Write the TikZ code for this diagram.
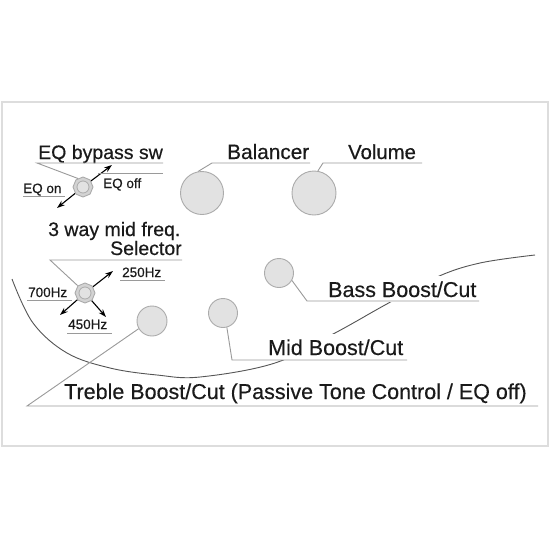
\documentclass[tikz,border=0pt]{standalone}
\usepackage{fontspec}
\setmainfont{Liberation Sans}
\newfontfamily\lblfont{Liberation Sans}[FakeBold=0.4]
\usetikzlibrary{shapes.geometric,arrows.meta}
\definecolor{linegray}{HTML}{9A9A9A}
\definecolor{knobfill}{HTML}{E2E2E2}
\definecolor{knobedge}{HTML}{ABABAB}
\definecolor{framegray}{HTML}{DDDDDD}
\definecolor{curvegray}{HTML}{555555}
\definecolor{textcol}{HTML}{1A1A1A}
\begin{document}
\begin{tikzpicture}[x=1pt,y=-1pt,
  lbl/.style={anchor=base west, inner sep=0pt, text=textcol, font=\lblfont\fontsize{#1}{#1}\selectfont},
  coverlbl/.style={lbl=#1, fill=white, inner xsep=2pt, inner ysep=5pt},
  leader/.style={draw=linegray, line width=0.9pt},
  knob/.style={circle, draw=knobedge, fill=knobfill, line width=0.9pt, minimum size=#1, inner sep=0pt},
  swouter/.style={regular polygon, regular polygon sides=8, shape border rotate=22.5, draw=knobedge, fill=knobfill!85!gray, line width=0.9pt, minimum size=20pt, inner sep=0pt},
  swinner/.style={circle, draw=knobedge, fill=knobfill, line width=0.8pt, minimum size=12pt, inner sep=0pt},
  arr/.style={-{Stealth[length=8pt,width=5.5pt]}, line width=1.1pt, black},
]
\useasboundingbox (0,0) rectangle (550,550);
\fill[white] (0,0) rectangle (550,550);
% frame
\draw[framegray, line width=2pt] (2,102) rectangle (548,446);

% big curve
\draw[curvegray, line width=0.9pt] plot[smooth, tension=0.6] coordinates {(12,279) (33,323) (67,353) (110,368) (157,375) (200,377) (275,363) (335,333) (385,305) (437,277) (480,263) (535,255)};

% EQ bypass switch
\coordinate (c1) at (83,187);
\coordinate (a1ne) at (112,165);
\coordinate (a1sw) at (57,208);
\draw[arr] (c1) -- (a1ne);
\draw[arr] (c1) -- (a1sw);
\node[swouter] (sw1) at (c1) {};
\node[swinner] (sw1i) at (c1) {};
\node[lbl=19.5] (eqbp) at (38,159) {EQ bypass sw};
\coordinate (u1a) at (37,163);
\coordinate (u1b) at (163,163);
\draw[leader] (sw1.120) -- (u1a) -- (u1b);
\coordinate (u1c) at (98,173);
\coordinate (u1d) at (163,173);
\draw[leader] (u1c) -- (u1d);
\node[lbl=13.5] (eqon) at (23,193) {EQ on};
\draw[leader] (eqon.base west) ++(0,3) coordinate (eqonu) -- ++(42,0);
\node[lbl=13.5] (eqoff) at (103,188) {EQ off};

% 3 way selector
\node[lbl=19.5] (three) at (48,236) {3 way mid freq.};
\node[lbl=19.5] (sel) at (110,255) {Selector};
\coordinate (c2) at (85,293);
\coordinate (a2ne) at (113,271);
\coordinate (a2sw) at (60,315);
\coordinate (a2se) at (106,317);
\draw[arr] (c2) -- (a2ne);
\draw[arr] (c2) -- (a2sw);
\draw[arr] (c2) -- (a2se);
\node[swouter] (sw2) at (c2) {};
\node[swinner] (sw2i) at (c2) {};
\coordinate (u2a) at (50,260);
\coordinate (u2b) at (182,260);
\draw[leader] (sw2.135) -- (u2a) -- (u2b);
\node[lbl=13.5] (f250) at (122,277) {250Hz};
\node[lbl=13.5] (f700) at (28,297) {700Hz};
\node[lbl=13.5] (f450) at (68,329) {450Hz};
\draw[leader] (120,280) -- (165,280);
\draw[leader] (27,300) -- (72,300);
\draw[leader] (67,333) -- (112,333);

% Balancer and Volume
\node[knob=43pt] (bal) at (202,193) {};
\node[knob=44pt] (vol) at (314,193) {};
\node[lbl=20.8] (ball) at (227,159) {Balancer};
\node[lbl=20.3] (voll) at (348,159) {Volume};
\coordinate (ub1) at (212,163);
\coordinate (ub2) at (310,163);
\draw[leader] (bal.100) -- (ub1) -- (ub2);
\coordinate (uv1) at (323,163);
\coordinate (uv2) at (422,163);
\draw[leader] (vol.80) -- (uv1) -- (uv2);

% Bass, Mid, Treble
\node[knob=29pt] (bass) at (279,273) {};
\node[knob=29pt] (mid) at (223,313) {};
\node[knob=30pt] (treb) at (152,321) {};
\node[coverlbl=21.5] (bassl) at (326,297) {Bass Boost/Cut};
\node[coverlbl=21.5] (midl) at (266,355) {Mid Boost/Cut};
\node[lbl=21.5] (trebl) at (64,399) {Treble Boost/Cut (Passive Tone Control / EQ off)};
\coordinate (uba1) at (307,301);
\coordinate (uba2) at (479,301);
\draw[leader] (bass.-30) -- (uba1) -- (uba2);
\coordinate (um1) at (232,360);
\coordinate (um2) at (407,360);
\draw[leader] (mid.-75) -- (um1) -- (um2);
\coordinate (ut1) at (27,406);
\coordinate (ut2) at (538,406);
\draw[leader] (treb.210) -- (ut1) -- (ut2);
\end{tikzpicture}
\end{document}
